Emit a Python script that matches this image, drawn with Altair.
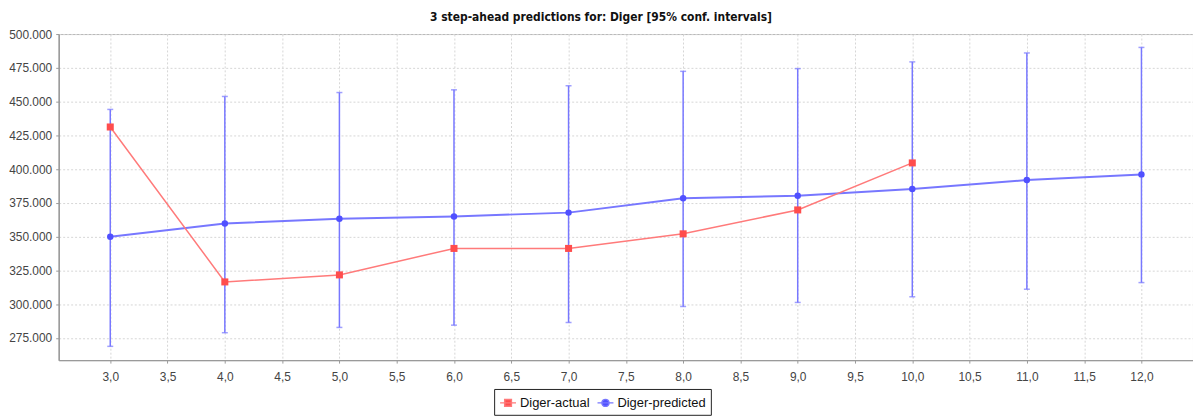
import altair as alt
import pandas as pd

# ---- data ----
steps_actual = [3, 4, 5, 6, 7, 8, 9, 10]
actual = [431200, 316500, 321700, 341300, 341300, 352100, 369800, 404600]

steps_pred = [3, 4, 5, 6, 7, 8, 9, 10, 11, 12]
predicted = [349900, 359700, 363200, 365000, 367800, 378400, 380300, 385300, 391900, 396100]
upper = [444200, 453800, 456700, 458700, 461700, 472400, 474400, 479400, 486000, 490100]
lower = [268800, 278900, 282800, 284500, 286500, 298300, 301300, 305500, 311100, 316000]

series_names = ["Diger-actual", "Diger-predicted"]
x_ticks = [3.0 + 0.5 * i for i in range(19)]
y_ticks = [275000 + 25000 * i for i in range(10)]

title_text = "3 step-ahead predictions for: Diger [95% conf. intervals]"

RED_LINE = "#ff7a7a"
RED_MARK = "#ff4d4d"
BLUE_LINE = "#7777ff"
BLUE_MARK = "#5050ff"

df_a = pd.DataFrame({"step": steps_actual, "value": actual, "series": series_names[0]})
df_p = pd.DataFrame({"step": steps_pred, "value": predicted, "upper": upper,
                     "lower": lower, "series": series_names[1]})
df_all = pd.concat([df_a, df_p], ignore_index=True)

x_scale = alt.Scale(domain=[2.55, 12.45], nice=False, zero=False)
x_axis = alt.Axis(values=x_ticks, title=None, labelOverlap=False,
                  labelExpr="replace(format(datum.value, '.1f'), '.', ',')")
y_scale = alt.Scale(domain=[258600, 500000], nice=False, zero=False)
y_axis = alt.Axis(values=y_ticks, title=None, labelOverlap=False,
                  labelExpr="replace(format(datum.value, ',.0f'), ',', '.')")


def X():
    return alt.X("step:Q", scale=x_scale, axis=x_axis)


def Y(field):
    return alt.Y(field, scale=y_scale, axis=y_axis)


base_p = alt.Chart(df_p)
base_a = alt.Chart(df_a)

err_rule = base_p.mark_rule(color=BLUE_LINE, strokeWidth=1.5).encode(
    x=X(), y=Y("lower:Q"), y2="upper:Q")
cap_hi = base_p.mark_tick(orient="horizontal", color=BLUE_LINE, size=6, thickness=1.5).encode(
    x=X(), y=Y("upper:Q"))
cap_lo = base_p.mark_tick(orient="horizontal", color=BLUE_LINE, size=6, thickness=1.5).encode(
    x=X(), y=Y("lower:Q"))

line_p = base_p.mark_line(color=BLUE_LINE, strokeWidth=2).encode(x=X(), y=Y("value:Q"))
pts_p = base_p.mark_circle(color=BLUE_MARK, size=42, opacity=1).encode(x=X(), y=Y("value:Q"))

line_a = base_a.mark_line(color=RED_LINE, strokeWidth=1.5).encode(x=X(), y=Y("value:Q"))
pts_a = base_a.mark_square(color=RED_MARK, size=50, opacity=1).encode(x=X(), y=Y("value:Q"))

sq_path = "M-1,0L1,0M-0.42,-0.42L0.42,-0.42L0.42,0.42L-0.42,0.42Z"
ci_path = "M-1,0L1,0M0.44,0A0.44,0.44 0 1,1 -0.44,0A0.44,0.44 0 1,1 0.44,0Z"

legend = alt.Legend(title=None, orient="none", direction="horizontal",
                    legendX=438, legendY=357, columns=2,
                    strokeColor="#222222", padding=5, cornerRadius=0,
                    symbolSize=256, symbolStrokeWidth=1.5, symbolOpacity=1,
                    labelFontSize=13, labelFont="Liberation Sans", labelColor="#111111",
                    columnPadding=4, labelOffset=3)

legend_layer = alt.Chart(df_all).mark_point(filled=True, opacity=0).encode(
    x=X(), y=Y("value:Q"),
    fill=alt.Fill("series:N", scale=alt.Scale(domain=series_names, range=[RED_MARK, BLUE_MARK]),
                  legend=legend),
    stroke=alt.Stroke("series:N", scale=alt.Scale(domain=series_names, range=[RED_LINE, BLUE_LINE]),
                      legend=legend),
    shape=alt.Shape("series:N", scale=alt.Scale(domain=series_names, range=[sq_path, ci_path]),
                    legend=legend),
)

chart = alt.layer(err_rule, cap_hi, cap_lo, line_p, line_a, pts_p, pts_a, legend_layer).properties(
    width=1141, height=328,
    title=alt.TitleParams(title_text,
                          font="'Liberation Sans Narrow', 'DejaVu Sans Condensed', 'Liberation Sans', sans-serif",
                          fontSize=12, fontWeight="bold",
                          color="#111111", anchor="middle", frame="group", dx=-25, dy=12,
                          offset=4, baseline="bottom"),
    autosize=alt.AutoSizeParams(type="none"),
    padding={"left": 51, "top": 25, "right": 0, "bottom": 56},
).configure_view(
    stroke="#b5b5b5", strokeWidth=1
).configure_axis(
    labelFont="Liberation Sans", labelFontSize=12, labelColor="#444444",
    labelOverlap=False,
    domainColor="#9a9a9a", domainWidth=1.5,
    tickColor="#9a9a9a", tickSize=3,
    gridColor="#d6d6d6", gridDash=[2, 2], gridWidth=1,
).configure_axisX(labelPadding=8).configure_axisY(labelPadding=4)

chart.save("out.html", embed_options={"renderer": "svg", "actions": False})
